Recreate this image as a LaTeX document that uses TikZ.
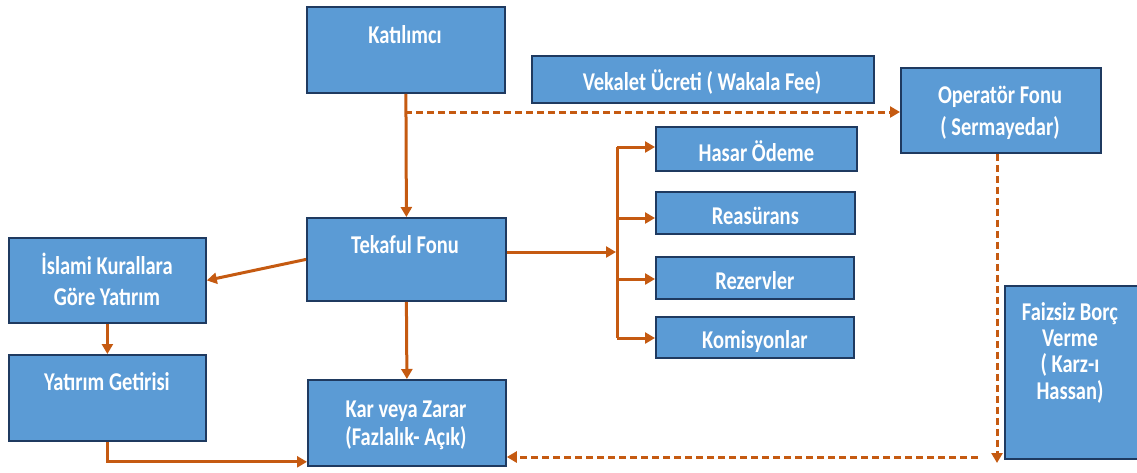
\documentclass[tikz,border=0pt]{standalone}
\usepackage{fontspec}
\setmainfont{Carlito}
\usetikzlibrary{arrows.meta,calc}
\definecolor{boxfill}{HTML}{5B9BD5}
\definecolor{boxline}{HTML}{1F3A60}
\definecolor{arr}{HTML}{C55A11}
\newcommand{\tx}[2][22]{\scalebox{1}[1.25]{\fontsize{20.5}{#1}\selectfont\bfseries\begin{tabular}{@{}c@{}}#2\end{tabular}}}
\begin{document}
\begin{tikzpicture}[x=1pt,y=-1pt,
  box/.style={draw=boxline,line width=1.8pt,fill=boxfill,anchor=north west,inner sep=0pt},
  txt/.style={text=white,inner sep=0pt},
  link/.style={draw=arr,line width=3pt,-{Triangle[length=10pt,width=11pt]}},
  plain/.style={draw=arr,line width=3pt},
  dlink/.style={draw=arr,line width=3pt,dash pattern=on 7pt off 4pt,-{Triangle[length=10pt,width=11pt]}}
]
\useasboundingbox (0,0) rectangle (1137,472);
% boxes
\node[box,minimum width=198pt,minimum height=86pt] (kat) at (306,6) {};
\node[box,minimum width=342pt,minimum height=47pt] (vek) at (531,55) {};
\node[box,minimum width=200pt,minimum height=85pt] (op) at (900,67) {};
\node[box,minimum width=199pt,minimum height=83pt] (tek) at (306,217) {};
\node[box,minimum width=197pt,minimum height=85pt] (isl) at (8,237) {};
\node[box,minimum width=197pt,minimum height=86pt] (yat) at (8,354) {};
\node[box,minimum width=198pt,minimum height=86pt] (kar) at (307,379) {};
\node[box,minimum width=201pt,minimum height=44pt] (has) at (655,126) {};
\node[box,minimum width=199pt,minimum height=42pt] (rea) at (655,191) {};
\node[box,minimum width=198pt,minimum height=42pt] (rez) at (655,256) {};
\node[box,minimum width=198pt,minimum height=41pt] (kom) at (655,316) {};
\node[box,minimum width=133pt,minimum height=173pt] (fai) at (1004,285) {};
% texts
\node[txt] (katT) at (405,38) {\tx{Katılımcı}};
\node[txt] (vekT) at (702,84) {\tx{Vekalet Ücreti ( Wakala Fee)}};
\node[txt] (opT) at (1000,113) {\tx[26]{Operatör Fonu\\( Sermayedar)}};
\node[txt] (tekT) at (405,248) {\tx{Tekaful Fonu}};
\node[txt] (islT) at (107,284) {\tx[25]{İslami Kurallara\\Göre Yatırım}};
\node[txt] (yatT) at (107,385) {\tx{Yatırım Getirisi}};
\node[txt] (karT) at (406,426) {\tx[22.5]{Kar veya Zarar\\(Fazlalık- Açık)}};
\node[txt] (hasT) at ([yshift=-6pt]has.center) {\tx{Hasar Ödeme}};
\node[txt] (reaT) at ([yshift=-6pt]rea.center) {\tx{Reasürans}};
\node[txt] (rezT) at ([yshift=-6pt]rez.center) {\tx{Rezervler}};
\node[txt] (komT) at ([yshift=-6pt]kom.center) {\tx{Komisyonlar}};
\node[txt] (faiT) at (1070,355) {\tx[20.5]{Faizsiz Borç\\Verme\\( Karz-ı\\Hassan)}};
% coordinates
\coordinate (j1) at (405,112);
\coordinate (bt) at (617,147);
\coordinate (bb) at (617,338);
\coordinate (bm) at (617,252);
\coordinate (d1) at (997,463);
\coordinate (d2) at (978,457);
% connectors
\draw[link] (kat.south) -- (tek.north);
\draw[dlink] (j1) -- (j1 -| op.west);
\draw[link] (tek.west) -- (isl.east);
\draw[link] (isl.south) -- (yat.north);
\draw[link] (yat.south) |- ([yshift=5pt]kar.south west);
\draw[link] (tek.south) -- (kar.north);
\draw[link] (tek.east |- bm) -- ([xshift=-1pt]bm);
\draw[plain] (bt) -- (bb);
\draw[link] (bt) -- (bt -| has.west);
\draw[link] (617,218) -- (617,218 -| rea.west);
\draw[link] (617,279) -- (617,279 -| rez.west);
\draw[link] (bb) -- (bb -| kom.west);
\draw[dlink] (op.south -| d1) -- (d1);
\draw[dlink] (d2) -- (d2 -| kar.east);
\end{tikzpicture}
\end{document}
